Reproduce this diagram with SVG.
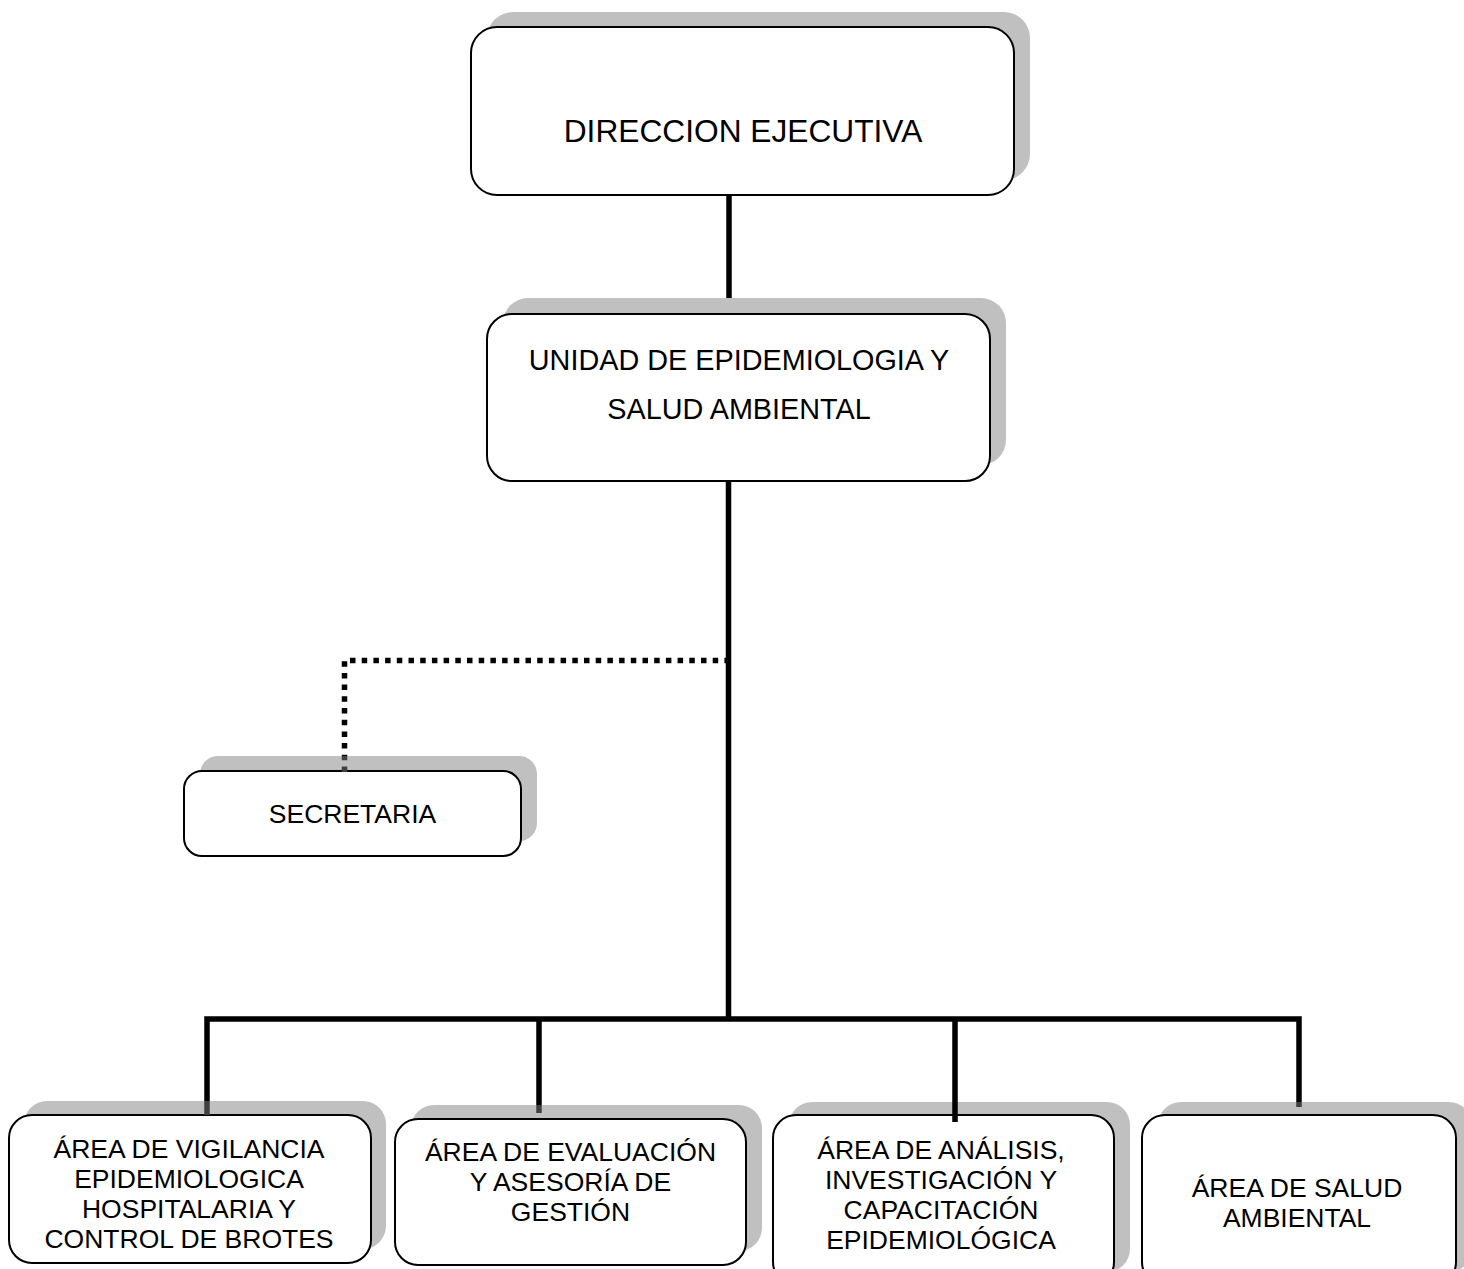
<svg xmlns="http://www.w3.org/2000/svg" width="1464" height="1269" viewBox="0 0 1464 1269">
<style>
.shadow{fill:#c0c0c0;stroke:none}
.box{fill:#ffffff;stroke:#000000;stroke-width:2}
.lbl{font-family:"Liberation Sans",Arial,sans-serif;fill:#000000;text-anchor:middle}
.conn{fill:none;stroke:#000000;stroke-width:5.5;stroke-linejoin:miter;stroke-linecap:butt}
.connsh{fill:none;stroke:#404040;stroke-width:5.5;stroke-linecap:butt}
.dot{fill:none;stroke:#000000;stroke-width:5.5;stroke-dasharray:5.5 6.2}
.dotsh{fill:none;stroke:#404040;stroke-width:5.5;stroke-dasharray:5.5 6.2}
</style>
<rect width="1464" height="1269" fill="#ffffff"/>

<g id="node-direccion">
<rect class="shadow" x="487" y="12" width="543" height="168" rx="26"/>
<rect class="box" x="471" y="27" width="543" height="168" rx="26"/>
<text class="lbl" x="743" y="142" font-size="31.7">DIRECCION EJECUTIVA</text>
</g>

<g id="node-unidad">
<rect class="shadow" x="503" y="298" width="503" height="167" rx="25"/>
<rect class="box" x="487" y="314" width="503" height="167" rx="25"/>
<text class="lbl" x="739" y="370" font-size="28.8">UNIDAD DE EPIDEMIOLOGIA Y</text>
<text class="lbl" x="739" y="419" font-size="28.8">SALUD AMBIENTAL</text>
</g>

<g id="node-secretaria">
<rect class="shadow" x="200" y="756" width="337" height="85" rx="18"/>
<rect class="box" x="184" y="771" width="337" height="85" rx="18"/>
<text class="lbl" x="352.5" y="823" font-size="26.5">SECRETARIA</text>
</g>

<g id="node-vigilancia">
<rect class="shadow" x="24" y="1101" width="362" height="148" rx="23"/>
<rect class="box" x="9" y="1115" width="362" height="148" rx="23"/>
<text class="lbl" x="189" y="1158" font-size="26.5">ÁREA DE VIGILANCIA</text>
<text class="lbl" x="189" y="1188" font-size="26.5">EPIDEMIOLOGICA</text>
<text class="lbl" x="189" y="1218" font-size="26.5">HOSPITALARIA Y</text>
<text class="lbl" x="189" y="1248" font-size="26.5">CONTROL DE BROTES</text>
</g>

<g id="node-evaluacion">
<rect class="shadow" x="411" y="1105" width="351" height="146" rx="23"/>
<rect class="box" x="395" y="1119" width="351" height="146" rx="23"/>
<text class="lbl" x="570.5" y="1161" font-size="26.5">ÁREA DE EVALUACIÓN</text>
<text class="lbl" x="570.5" y="1191" font-size="26.5">Y ASESORÍA DE</text>
<text class="lbl" x="570.5" y="1221" font-size="26.5">GESTIÓN</text>
</g>

<g id="node-analisis">
<rect class="shadow" x="789" y="1102" width="341" height="170" rx="23"/>
<rect class="box" x="773" y="1115" width="341" height="170" rx="23"/>
<text class="lbl" x="941" y="1159" font-size="26.5">ÁREA DE ANÁLISIS,</text>
<text class="lbl" x="941" y="1189" font-size="26.5">INVESTIGACIÓN Y</text>
<text class="lbl" x="941" y="1219" font-size="26.5">CAPACITACIÓN</text>
<text class="lbl" x="941" y="1249" font-size="26.5">EPIDEMIOLÓGICA</text>
</g>

<g id="node-salud">
<rect class="shadow" x="1158" y="1102" width="314" height="170" rx="23"/>
<rect class="box" x="1142" y="1115" width="314" height="170" rx="23"/>
<text class="lbl" x="1297" y="1197" font-size="26.5">ÁREA DE SALUD</text>
<text class="lbl" x="1297" y="1227" font-size="26.5">AMBIENTAL</text>
</g>

<g id="connectors">
<path class="conn" d="M729,195 V298"/>
<path class="conn" d="M728.5,481 V1019"/>
<path class="conn" d="M207,1101 V1019 H1299 V1102"/>
<path class="conn" d="M539,1019 V1105"/>
<path class="conn" d="M955,1019 V1122"/>
<path class="connsh" d="M207,1101 V1115"/>
<path class="connsh" d="M539,1105 V1113"/>
<path class="connsh" d="M1299,1102 V1107"/>
<path class="dotsh" d="M344.5,772 V756"/>
<path class="dot" d="M344.5,756 V660.5 H726" stroke-dashoffset="16"/>
</g>
</svg>
